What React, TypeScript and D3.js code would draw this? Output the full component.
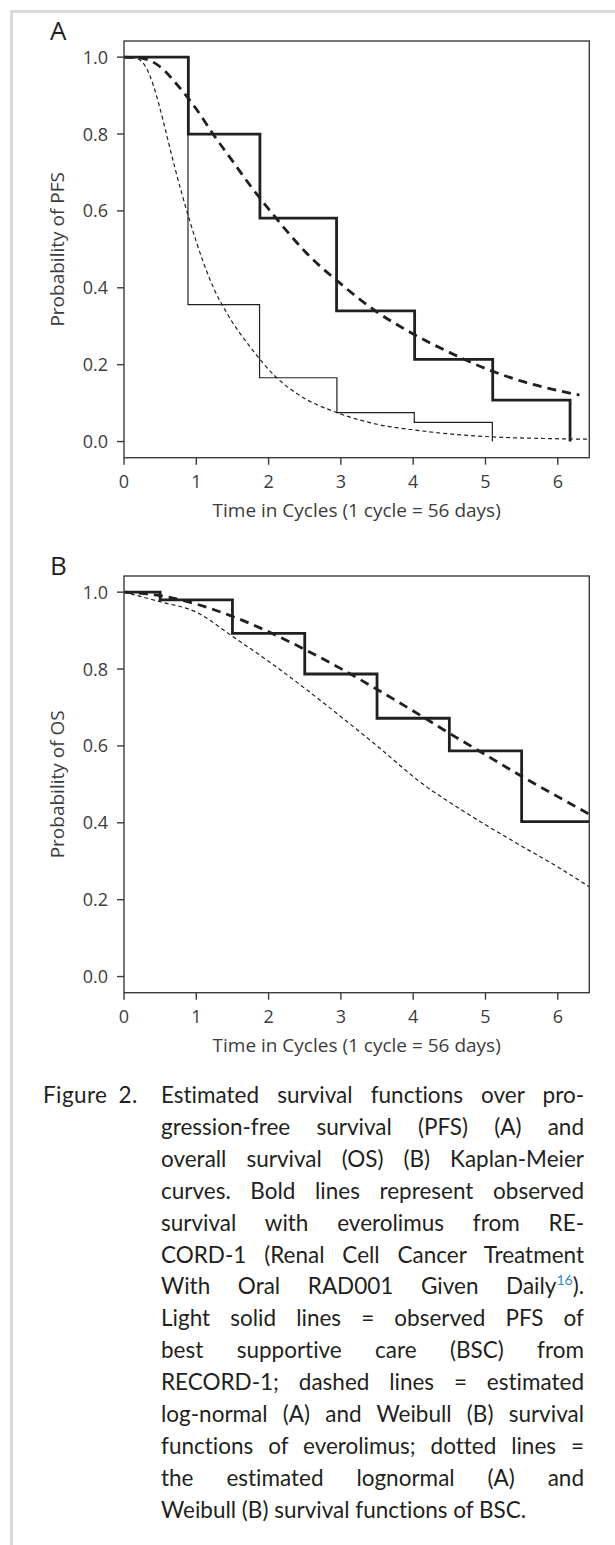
import React, { useLayoutEffect, useRef } from 'react';
import * as d3 from 'd3';

// ---------- data ----------
const timeTicks = [0, 1, 2, 3, 4, 5, 6];
const probTicks = [0, 0.2, 0.4, 0.6, 0.8, 1.0];

// Panel A: PFS
const pfsEveroKmTimes = [0, 0.89, 1.88, 2.94, 4.02, 5.1, 6.17];
const pfsEveroKmSurv = [1.0, 0.8, 0.581, 0.34, 0.214, 0.108, 0.0];
const pfsBscKmTimes = [0, 0.885, 1.875, 2.945, 4.015, 5.095];
const pfsBscKmSurv = [1.0, 0.356, 0.166, 0.075, 0.05, 0.0];
const pfsEveroFitTimes = [0, 0.25, 0.5, 0.75, 1.0, 1.25, 1.5, 1.75, 2.0, 2.25, 2.5, 3.0, 3.5, 4.0, 4.5, 5.0, 5.5, 6.0, 6.3];
const pfsEveroFitSurv = [1.0, 0.997, 0.975, 0.925, 0.865, 0.795, 0.73, 0.665, 0.605, 0.548, 0.495, 0.41, 0.337, 0.28, 0.232, 0.19, 0.157, 0.133, 0.121];
const pfsBscFitTimes = [0, 0.15, 0.3, 0.4, 0.5, 0.6, 0.7, 0.8, 0.9, 1.0, 1.1, 1.25, 1.42, 1.75, 2.09, 2.43, 2.95, 3.5, 4.02, 4.5, 5.1, 5.8, 6.44];
const pfsBscFitSurv = [1.0, 0.998, 0.975, 0.93, 0.865, 0.79, 0.715, 0.645, 0.58, 0.52, 0.465, 0.395, 0.335, 0.245, 0.17, 0.12, 0.075, 0.045, 0.03, 0.02, 0.012, 0.008, 0.006];

// Panel B: OS
const osEveroKmTimes = [0, 0.5, 1.5, 2.5, 3.5, 4.5, 5.5, 6.44];
const osEveroKmSurv = [1.0, 0.98, 0.893, 0.787, 0.672, 0.587, 0.403, 0.403];
const osEveroFitTimes = [0, 0.5, 1, 1.5, 2, 2.5, 3, 3.5, 4, 4.5, 5, 5.5, 6, 6.44];
const osEveroFitSurv = [1.0, 0.991, 0.969, 0.937, 0.897, 0.851, 0.801, 0.747, 0.691, 0.633, 0.577, 0.521, 0.468, 0.422];
const osBscFitTimes = [0, 0.5, 1, 1.5, 2, 2.5, 3, 3.5, 4.09, 4.74, 5.43, 6, 6.44];
const osBscFitSurv = [1.0, 0.975, 0.948, 0.885, 0.82, 0.75, 0.676, 0.6, 0.507, 0.425, 0.347, 0.285, 0.233];

const panelLabels = ['A', 'B'];
const yTitles = ['Probability of PFS', 'Probability of OS'];
const xTitle = 'Time in Cycles (1 cycle = 56 days)';

const captionLines = [
  'Estimated survival functions over pro-',
  'gression-free survival (PFS) (A) and',
  'overall survival (OS) (B) Kaplan-Meier',
  'curves. Bold lines represent observed',
  'survival with everolimus from RE-',
  'CORD-1 (Renal Cell Cancer Treatment',
  'With Oral RAD001 Given Daily',
  'Light solid lines = observed PFS of',
  'best supportive care (BSC) from',
  'RECORD-1; dashed lines = estimated',
  'log-normal (A) and Weibull (B) survival',
  'functions of everolimus; dotted lines =',
  'the estimated lognormal (A) and',
  'Weibull (B) survival functions of BSC.',
];

// ---------- layout ----------
const W = 615;
const H = 1545;
const plotLeft = 124;
const plotRight = 589.3;
const panelTops = [41, 576];
const plotH = 416.7;
const INK = '#231f20';
const AXIS = '#3c3c3c';
const FONT = "'Open Sans', 'DejaVu Sans', sans-serif";
const CAP_FONT = "Lato, 'Open Sans', sans-serif";

const zip = (t: number[], s: number[]) => t.map((v, i) => [v, s[i]] as [number, number]);

function Panel({ idx, km, kmLight, fitBold, fitLight }: any) {
  const top = panelTops[idx];
  const bottom = top + plotH;
  const x = d3.scaleLinear().domain([0, 6.436]).range([plotLeft, plotRight]);
  const y = d3.scaleLinear().domain([-0.042, 1.042]).range([bottom, top]);
  const step = d3.line<[number, number]>().x(d => x(d[0])).y(d => y(d[1])).curve(d3.curveStepAfter);
  const smooth = d3.line<[number, number]>().x(d => x(d[0])).y(d => y(d[1])).curve(d3.curveMonotoneX);
  const midX = (plotLeft + plotRight) / 2;
  return (
    <g>
      <text x={50} y={top - 1} fontSize={26} fill={INK} fontFamily={FONT}>{panelLabels[idx]}</text>
      {fitLight && <path d={smooth(fitLight) || ''} fill="none" stroke={INK} strokeWidth={1.2} strokeDasharray="4,3" />}
      {kmLight && <path d={step(kmLight) || ''} fill="none" stroke={INK} strokeWidth={1.2} />}
      {fitBold && <path d={smooth(fitBold) || ''} fill="none" stroke={INK} strokeWidth={2.8} strokeDasharray="9,6" />}
      {km && <path d={step(km) || ''} fill="none" stroke={INK} strokeWidth={2.8} />}
      <rect x={plotLeft} y={top} width={plotRight - plotLeft} height={plotH} fill="none" stroke={AXIS} strokeWidth={1.4} />
      {probTicks.map(v => (
        <g key={'y' + v}>
          <line x1={plotLeft - 7} x2={plotLeft} y1={y(v)} y2={y(v)} stroke={AXIS} strokeWidth={1.4} />
          <text x={108} y={y(v)} dy="0.36em" textAnchor="end" fontSize={18} fill={AXIS} fontFamily={FONT}>{v.toFixed(1)}</text>
        </g>
      ))}
      {timeTicks.map(v => (
        <g key={'x' + v}>
          <line x1={x(v)} x2={x(v)} y1={bottom} y2={bottom + 7} stroke={AXIS} strokeWidth={1.4} />
          <text x={x(v)} y={bottom + 30} textAnchor="middle" fontSize={18} fill={AXIS} fontFamily={FONT}>{v}</text>
        </g>
      ))}
      <text x={midX} y={bottom + 59} textAnchor="middle" fontSize={19} fill={AXIS} fontFamily={FONT}>{xTitle}</text>
      <text transform={`translate(64,${(top + bottom) / 2}) rotate(-90)`} textAnchor="middle" fontSize={19} fill={AXIS} fontFamily={FONT}>{yTitles[idx]}</text>
    </g>
  );
}

const figLeft = 43;
const capLeft = 161;
const capRight = 584;
const capBase = 1103;
const capStep = 31.9;
const capSize = 22.5;

function Caption() {
  const refs = useRef<(SVGTextElement | null)[]>([]);
  useLayoutEffect(() => {
    refs.current.forEach((el, i) => {
      if (!el || i === captionLines.length - 1) return;
      el.style.wordSpacing = '0px';
      const len = el.getComputedTextLength();
      const spaces = (el.textContent || '').split(' ').length - 1;
      if (spaces > 0) {
        const ws = (capRight - capLeft - len) / spaces;
        el.style.wordSpacing = `${ws}px`;
      }
    });
  }, []);
  return (
    <g fontFamily={CAP_FONT} fontSize={capSize} fill={INK} style={{ fontVariantLigatures: 'none' }}>
      <text x={figLeft} y={capBase} style={{ wordSpacing: '5px', letterSpacing: '0.4px' }}>Figure 2.</text>
      {captionLines.map((ln, i) => (
        <text key={i} ref={el => { refs.current[i] = el; }} x={capLeft} y={capBase + i * capStep}>
          {ln}
          {i === 6 && (
            <>
              <tspan dy={-9} fontSize={14} fill="#2f8fc6">16</tspan>
              <tspan dy={9}>).</tspan>
            </>
          )}
        </text>
      ))}
    </g>
  );
}

export default function App() {
  return (
    <svg width={W} height={H} viewBox={`0 0 ${W} ${H}`} style={{ position: 'absolute', left: 0, top: 0, background: '#fff' }}>
      <rect x={0} y={0} width={W} height={H} fill="#fff" />
      <path d={`M11.5,${H} V11.5 H${W}`} fill="none" stroke="#d9d9d9" strokeWidth={3} />
      <Panel idx={0}
        km={zip(pfsEveroKmTimes, pfsEveroKmSurv)}
        kmLight={zip(pfsBscKmTimes, pfsBscKmSurv)}
        fitBold={zip(pfsEveroFitTimes, pfsEveroFitSurv)}
        fitLight={zip(pfsBscFitTimes, pfsBscFitSurv)} />
      <Panel idx={1}
        km={zip(osEveroKmTimes, osEveroKmSurv)}
        fitBold={zip(osEveroFitTimes, osEveroFitSurv)}
        fitLight={zip(osBscFitTimes, osBscFitSurv)} />
      <Caption />
    </svg>
  );
}
